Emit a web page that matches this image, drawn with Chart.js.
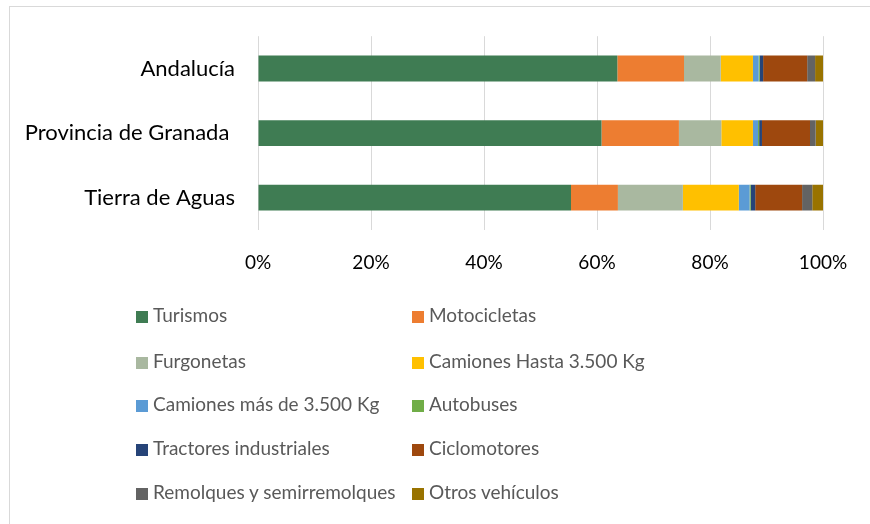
<!DOCTYPE html>
<html>
<head>
<meta charset="utf-8">
<script src="https://cdn.jsdelivr.net/npm/chart.js@4/dist/chart.umd.min.js"></script>
<style>
  html, body { margin: 0; padding: 0; background: #fff; }
  #wrap { position: relative; width: 870px; height: 524px; overflow: hidden; }
  #frame { position: absolute; left: 9px; top: 6px; width: 900px; height: 560px;
           border: 1px solid #d9d9d9; box-sizing: border-box; }
  #chartBox { position: absolute; left: 0; top: 0; width: 870px; height: 290px; }
  #legend { position: absolute; left: 0; top: 0; width: 870px; height: 524px;
            font-family: Lato, "Open Sans", sans-serif; font-size: 19px; color: #595959; }
  .item { position: absolute; white-space: nowrap; line-height: 22px; }
  .sw { display: inline-block; width: 12px; height: 12px; margin-right: 5px; vertical-align: -1px; }
</style>
</head>
<body>
<div id="wrap">
  <div id="frame"></div>
  <div id="chartBox"><canvas id="c" width="870" height="290"></canvas></div>
  <div id="legend"></div>
</div>
<script>
// Regions compared
const categories = ['Andalucía', 'Provincia de Granada ', 'Tierra de Aguas'];

// Share of the vehicle fleet by type (%), one array per vehicle type
const turismos      = [63.6, 60.8, 55.4];
const motocicletas  = [11.8, 13.7, 8.3];
const furgonetas    = [6.5, 7.5, 11.5];
const camionesHasta = [5.7, 5.6, 9.9];
const camionesMas   = [1.0, 0.9, 1.9];
const autobuses     = [0.2, 0.2, 0.2];
const tractores     = [0.6, 0.5, 0.8];
const ciclomotores  = [7.8, 8.5, 8.3];
const remolques     = [1.4, 1.0, 1.8];
const otros         = [1.4, 1.3, 1.9];

const seriesNames = ['Turismos', 'Motocicletas', 'Furgonetas', 'Camiones Hasta 3.500 Kg',
  'Camiones más de 3.500 Kg', 'Autobuses', 'Tractores industriales', 'Ciclomotores',
  'Remolques y semirremolques', 'Otros vehículos'];
const seriesValues = [turismos, motocicletas, furgonetas, camionesHasta, camionesMas,
  autobuses, tractores, ciclomotores, remolques, otros];
const seriesColors = ['#3f7c53', '#ed7d31', '#a9b8a0', '#ffc000', '#5b9bd5',
  '#70ad47', '#264478', '#9e480e', '#636363', '#997300'];

const xTicks = [0, 20, 40, 60, 80, 100];

const datasets = seriesNames.map((name, i) => ({
  label: name,
  data: seriesValues[i],
  backgroundColor: seriesColors[i],
  borderWidth: 0,
  categoryPercentage: 1.0,
  barPercentage: 0.4
}));

const FAMILY = 'Lato, "Open Sans", sans-serif';

new Chart(document.getElementById('c'), {
  type: 'bar',
  data: { labels: categories, datasets },
  options: {
    indexAxis: 'y',
    responsive: false,
    animation: false,
    layout: { padding: { top: 36, right: 47, left: 0, bottom: 0 } },
    plugins: { legend: { display: false }, tooltip: { enabled: false } },
    scales: {
      x: {
        stacked: true,
        min: 0, max: 100,
        afterBuildTicks: s => { s.ticks = xTicks.map(v => ({ value: v })); },
        afterFit: s => { s.height = 60; },
        ticks: { callback: v => v + '%', color: '#000', font: { family: FAMILY, size: 19 }, padding: 21, maxRotation: 0 },
        grid: { color: '#d9d9d9', lineWidth: 1, drawTicks: false },
        border: { display: false }
      },
      y: {
        stacked: true,
        afterFit: s => { s.width = 258; },
        ticks: { color: '#000', font: { family: FAMILY, size: 22 }, padding: 23 },
        grid: { display: false, drawTicks: false },
        border: { display: false }
      }
    }
  }
});

// Two-column legend
const legend = document.getElementById('legend');
const colX = [136, 412];
const rowY = [304, 350, 393, 437, 481];
seriesNames.forEach((name, i) => {
  const el = document.createElement('div');
  el.className = 'item';
  el.style.left = colX[i % 2] + 'px';
  el.style.top = rowY[Math.floor(i / 2)] + 'px';
  const sw = document.createElement('span');
  sw.className = 'sw';
  sw.style.background = seriesColors[i];
  el.appendChild(sw);
  el.appendChild(document.createTextNode(name));
  legend.appendChild(el);
});
</script>
</body>
</html>
